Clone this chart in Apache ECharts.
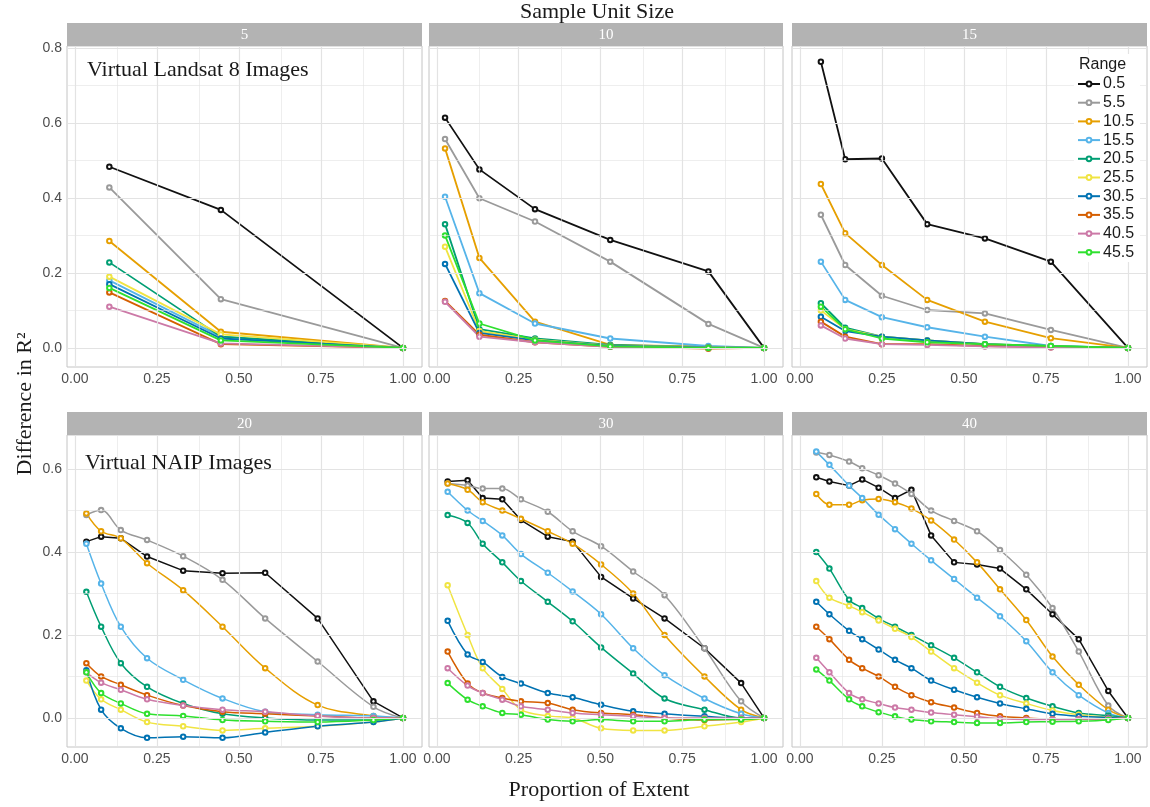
<!DOCTYPE html>
<html>
<head>
<meta charset="utf-8">
<script src="https://cdn.jsdelivr.net/npm/echarts@6/dist/echarts.min.js"></script>
<style>
  html, body { margin: 0; padding: 0; background: #fff; }
  #chart { width: 1150px; height: 807px; }
</style>
</head>
<body>
<div id="chart"></div>
<script>
// Range groups (legend) and facet labels (sample unit size)
var rangeNames = ["0.5", "5.5", "10.5", "15.5", "20.5", "25.5", "30.5", "35.5", "40.5", "45.5"];
var panelNames = ["5", "10", "15", "20", "30", "40"];

// tick labels
var xTicks = [0, 0.25, 0.5, 0.75, 1];
var xMinor = [0.125, 0.375, 0.625, 0.875];
var yTicksTop = [0, 0.2, 0.4, 0.6, 0.8];
var yMinorTop = [0.1, 0.3, 0.5, 0.7];
var yTicksBottom = [0, 0.2, 0.4, 0.6];
var yMinorBottom = [0.1, 0.3, 0.5];

// panel "5" (Landsat 8)
var x5 = [0.105, 0.445, 1.0];
var y5 = [
  [0.483, 0.368, 0],   // 0.5
  [0.428, 0.13, 0],    // 5.5
  [0.285, 0.043, 0],   // 10.5
  [0.18, 0.03, 0],     // 15.5
  [0.228, 0.03, 0],    // 20.5
  [0.19, 0.036, 0],    // 25.5
  [0.17, 0.025, 0],    // 30.5
  [0.148, 0.01, 0],    // 35.5
  [0.11, 0.012, 0],    // 40.5
  [0.16, 0.02, 0]      // 45.5
];

// panel "10"
var x10 = [0.025, 0.13, 0.30, 0.53, 0.83, 1.0];
var y10 = [
  [0.614, 0.476, 0.37, 0.288, 0.204, 0],
  [0.557, 0.399, 0.337, 0.23, 0.064, 0],
  [0.532, 0.24, 0.07, 0.008, 0.003, 0],
  [0.403, 0.146, 0.065, 0.025, 0.005, 0],
  [0.33, 0.05, 0.025, 0.008, 0.002, 0],
  [0.27, 0.045, 0.022, 0.006, 0.002, 0],
  [0.224, 0.04, 0.02, 0.005, 0.001, 0],
  [0.125, 0.035, 0.015, 0.003, -0.002, 0],
  [0.123, 0.03, 0.015, 0.003, 0, 0],
  [0.3, 0.065, 0.02, 0.004, 0, 0]
];

// panel "15"
var x15 = [0.064, 0.138, 0.25, 0.388, 0.564, 0.765, 1.0];
var y15 = [
  [0.763, 0.503, 0.505, 0.33, 0.292, 0.23, 0],
  [0.355, 0.221, 0.139, 0.101, 0.092, 0.048, 0],
  [0.437, 0.306, 0.221, 0.128, 0.07, 0.026, 0],
  [0.23, 0.128, 0.082, 0.055, 0.03, 0.005, 0],
  [0.119, 0.054, 0.03, 0.02, 0.01, 0.005, 0],
  [0.1, 0.05, 0.03, 0.02, 0.01, 0.004, 0],
  [0.083, 0.045, 0.03, 0.02, 0.01, 0.003, 0],
  [0.07, 0.03, 0.01, 0.01, 0.005, 0.002, 0],
  [0.06, 0.025, 0.01, 0.008, 0.004, 0.001, 0],
  [0.11, 0.05, 0.025, 0.015, 0.01, 0.005, 0]
];

// panel "20" (NAIP)
var x20 = [0.035, 0.08, 0.14, 0.22, 0.33, 0.45, 0.58, 0.74, 0.91, 1.0];
var y20 = [
  [0.425, 0.437, 0.433, 0.389, 0.355, 0.349, 0.35, 0.24, 0.04, 0],
  [0.489, 0.501, 0.453, 0.429, 0.39, 0.333, 0.24, 0.136, 0.027, 0],
  [0.493, 0.45, 0.433, 0.373, 0.308, 0.22, 0.12, 0.031, 0.005, 0],
  [0.42, 0.324, 0.22, 0.144, 0.092, 0.047, 0.015, 0.008, 0.005, 0],
  [0.304, 0.22, 0.132, 0.075, 0.035, 0.01, 0.0, -0.005, -0.005, 0],
  [0.09, 0.045, 0.02, -0.01, -0.02, -0.03, -0.025, -0.02, -0.01, 0],
  [0.115, 0.02, -0.025, -0.048, -0.045, -0.048, -0.035, -0.02, -0.01, 0],
  [0.132, 0.10, 0.08, 0.055, 0.03, 0.015, 0.01, 0.005, 0.0, 0],
  [0.11, 0.085, 0.068, 0.045, 0.03, 0.02, 0.015, 0.005, 0.0, 0],
  [0.11, 0.06, 0.035, 0.01, 0.005, -0.005, -0.008, -0.01, -0.005, 0]
];

// panel "30"
var x30 = [0.033, 0.094, 0.14, 0.2, 0.257, 0.339, 0.415, 0.502, 0.6, 0.696, 0.818, 0.93, 1.0];
var y30 = [
  [0.57, 0.573, 0.53, 0.527, 0.477, 0.437, 0.425, 0.34, 0.288, 0.24, 0.168, 0.084, 0],
  [0.565, 0.56, 0.553, 0.553, 0.527, 0.497, 0.45, 0.414, 0.353, 0.296, 0.168, 0.04, 0],
  [0.565, 0.55, 0.52, 0.5, 0.48, 0.45, 0.42, 0.37, 0.3, 0.2, 0.1, 0.02, 0],
  [0.545, 0.5, 0.475, 0.44, 0.395, 0.35, 0.305, 0.25, 0.168, 0.103, 0.047, 0.01, 0],
  [0.489, 0.47, 0.42, 0.375, 0.33, 0.28, 0.233, 0.17, 0.107, 0.047, 0.02, 0.0, 0],
  [0.32, 0.2, 0.12, 0.07, 0.02, 0.005, 0, -0.025, -0.03, -0.03, -0.02, -0.01, 0],
  [0.234, 0.153, 0.135, 0.099, 0.083, 0.06, 0.05, 0.032, 0.016, 0.01, 0.004, 0, 0],
  [0.16, 0.083, 0.06, 0.048, 0.04, 0.036, 0.02, 0.012, 0.008, 0, -0.005, -0.003, 0],
  [0.12, 0.078, 0.06, 0.044, 0.028, 0.02, 0.012, 0.008, 0.004, 0, 0, 0, 0],
  [0.084, 0.044, 0.028, 0.012, 0.008, -0.004, -0.008, -0.004, -0.008, -0.008, -0.004, -0.004, 0]
];

// panel "40"
var x40 = [0.05, 0.09, 0.15, 0.19, 0.24, 0.29, 0.34, 0.40, 0.47, 0.54, 0.61, 0.69, 0.77, 0.85, 0.94, 1.0];
var y40 = [
  [0.58, 0.57, 0.56, 0.575, 0.555, 0.53, 0.55, 0.44, 0.375, 0.37, 0.36, 0.31, 0.25, 0.19, 0.065, 0],
  [0.64, 0.634, 0.618, 0.602, 0.585, 0.565, 0.54, 0.5, 0.475, 0.45, 0.405, 0.345, 0.265, 0.16, 0.03, 0],
  [0.54, 0.514, 0.514, 0.525, 0.528, 0.52, 0.505, 0.476, 0.43, 0.375, 0.31, 0.236, 0.148, 0.08, 0.02, 0],
  [0.642, 0.61, 0.56, 0.53, 0.49, 0.455, 0.42, 0.38, 0.335, 0.29, 0.245, 0.185, 0.11, 0.055, 0.012, 0],
  [0.4, 0.36, 0.285, 0.265, 0.24, 0.22, 0.2, 0.175, 0.145, 0.11, 0.075, 0.048, 0.028, 0.012, 0.006, 0],
  [0.33, 0.29, 0.27, 0.255, 0.235, 0.215, 0.195, 0.16, 0.12, 0.085, 0.055, 0.035, 0.018, 0.008, 0.002, 0],
  [0.28, 0.25, 0.21, 0.19, 0.165, 0.14, 0.12, 0.09, 0.068, 0.05, 0.035, 0.022, 0.01, 0.004, 0.001, 0],
  [0.22, 0.19, 0.14, 0.12, 0.1, 0.075, 0.055, 0.038, 0.025, 0.012, 0.004, 0, -0.003, -0.003, -0.002, 0],
  [0.145, 0.11, 0.06, 0.045, 0.035, 0.025, 0.02, 0.013, 0.008, 0.003, -0.002, -0.004, -0.004, -0.003, -0.002, 0],
  [0.117, 0.09, 0.045, 0.028, 0.014, 0.004, -0.004, -0.008, -0.01, -0.012, -0.012, -0.01, -0.009, -0.008, -0.005, 0]
];

var panelX = [x5, x10, x15, x20, x30, x40];
var panelY = [y5, y10, y15, y20, y30, y40];

var rangeColors = ["#111111", "#9a9a9a", "#E69F00", "#56B4E9", "#009E73",
                   "#F0E442", "#0072B2", "#D55E00", "#CC79A7", "#2EE02E"];

// layout of the facets
var colLeft = [67, 429, 792];
var colWidth = [355, 354, 355];
var rowTop = [46, 435];
var rowHeight = [321, 312];
var rowYMin = [-0.051, -0.070];
var rowYMax = [0.805, 0.682];
var serif = "'Liberation Serif', 'DejaVu Serif', serif";
var sans = "'Liberation Sans', Arial, sans-serif";

var grids = [], xAxes = [], yAxes = [], series = [], graphics = [];

for (var p = 0; p < 6; p++) {
  var row = Math.floor(p / 3), col = p % 3;
  grids.push({
    left: colLeft[col], top: rowTop[row], width: colWidth[col], height: rowHeight[row],
    show: true, borderColor: "#c4c4c4", borderWidth: 1, backgroundColor: "#fff"
  });
  xAxes.push({
    type: "value", gridIndex: p, min: -0.024, max: 1.058,
    axisLine: { show: false },
    axisTick: { show: true, customValues: xTicks, length: 3, lineStyle: { color: "#b3b3b3" } },
    axisLabel: {
      customValues: xTicks, margin: 5, color: "#4d4d4d", fontSize: 14, fontFamily: sans,
      formatter: function (v) { return v.toFixed(2); }
    },
    splitLine: { show: false }
  });
  var yt = row === 0 ? yTicksTop : yTicksBottom;
  yAxes.push({
    type: "value", gridIndex: p, min: rowYMin[row], max: rowYMax[row],
    axisLine: { show: false },
    axisTick: { show: col === 0, customValues: yt, length: 3, lineStyle: { color: "#b3b3b3" } },
    axisLabel: {
      show: col === 0, customValues: yt, margin: 5, color: "#4d4d4d", fontSize: 14, fontFamily: sans,
      formatter: function (v) { return v.toFixed(1); }
    },
    splitLine: { show: false }
  });

  // panel grid lines
  var ml = [];
  xTicks.forEach(function (v) { ml.push({ xAxis: v, lineStyle: { width: 1.2 } }); });
  xMinor.forEach(function (v) { ml.push({ xAxis: v, lineStyle: { width: 0.6 } }); });
  yt.forEach(function (v) { ml.push({ yAxis: v, lineStyle: { width: 1.2 } }); });
  (row === 0 ? yMinorTop : yMinorBottom).forEach(function (v) { ml.push({ yAxis: v, lineStyle: { width: 0.6 } }); });
  series.push({
    name: "grid" + p, type: "line", xAxisIndex: p, yAxisIndex: p, z: 1,
    data: [], symbol: "none", silent: true, animation: false,
    markLine: {
      silent: true, symbol: ["none", "none"], label: { show: false }, animation: false,
      lineStyle: { type: "solid", color: "#e3e3e3" }, emphasis: { disabled: true },
      data: ml
    }
  });

  for (var r = 0; r < rangeNames.length; r++) {
    var pts = panelX[p].map(function (x, i) { return [x, panelY[p][r][i]]; });
    series.push({
      name: rangeNames[r], type: "line", xAxisIndex: p, yAxisIndex: p, z: 3,
      data: pts,
      smooth: row === 1 && r !== 0 ? 0.35 : false,
      symbol: "emptyCircle", symbolSize: 4.5,
      itemStyle: { color: rangeColors[r], borderWidth: 0.9 },
      lineStyle: { color: rangeColors[r], width: row === 0 ? 1.8 : 1.5 },
      emphasis: { disabled: true },
      animation: false
    });
  }

  // facet strip
  var sx = colLeft[col], sy = rowTop[row] - 23;
  graphics.push({
    type: "rect", shape: { x: sx, y: sy, width: colWidth[col], height: 23 },
    style: { fill: "#b3b3b3" }, z: 5, silent: true
  });
  graphics.push({
    type: "text", x: sx + colWidth[col] / 2, y: sy + 12, z: 6, silent: true,
    style: { text: panelNames[p], fill: "#fff", font: "15px " + serif, align: "center", verticalAlign: "middle" }
  });
}

// titles and annotations
graphics.push({ type: "text", x: 597, y: 12, silent: true,
  style: { text: "Sample Unit Size", fill: "#1a1a1a", font: "22px " + serif, align: "center", verticalAlign: "middle" } });
graphics.push({ type: "text", x: 599, y: 790, silent: true,
  style: { text: "Proportion of Extent", fill: "#1a1a1a", font: "22px " + serif, align: "center", verticalAlign: "middle" } });
graphics.push({ type: "text", x: 25, y: 404, rotation: Math.PI / 2, silent: true,
  style: { text: "Difference in R²", fill: "#1a1a1a", font: "22px " + serif, align: "center", verticalAlign: "middle" } });
graphics.push({ type: "text", x: 87, y: 70, z: 8, silent: true,
  style: { text: "Virtual Landsat 8 Images", fill: "#1a1a1a", font: "22px " + serif, align: "left", verticalAlign: "middle" } });
graphics.push({ type: "text", x: 85, y: 463, z: 8, silent: true,
  style: { text: "Virtual NAIP Images", fill: "#1a1a1a", font: "22px " + serif, align: "left", verticalAlign: "middle" } });

// legend box + title
graphics.push({ type: "rect", shape: { x: 1074, y: 54, width: 66, height: 208 },
  style: { fill: "#fff" }, z: 10, silent: true });
graphics.push({ type: "text", x: 1079, y: 65, z: 11, silent: true,
  style: { text: "Range", fill: "#1a1a1a", font: "16px " + sans, align: "left", verticalAlign: "middle" } });

var chart = echarts.init(document.getElementById("chart"));
chart.setOption({
  animation: false,
  grid: grids,
  xAxis: xAxes,
  yAxis: yAxes,
  legend: {
    data: rangeNames, orient: "vertical", left: 1077, top: 76, z: 12,
    itemWidth: 22, itemHeight: 6, itemGap: 2.7, padding: 0,
    itemStyle: { borderWidth: 1.5 },
    textStyle: { fontSize: 16, fontFamily: sans, color: "#1a1a1a", lineHeight: 16, padding: [0, 0, 0, -2] },
    selectedMode: false
  },
  series: series,
  graphic: { elements: graphics }
});
</script>
</body>
</html>
